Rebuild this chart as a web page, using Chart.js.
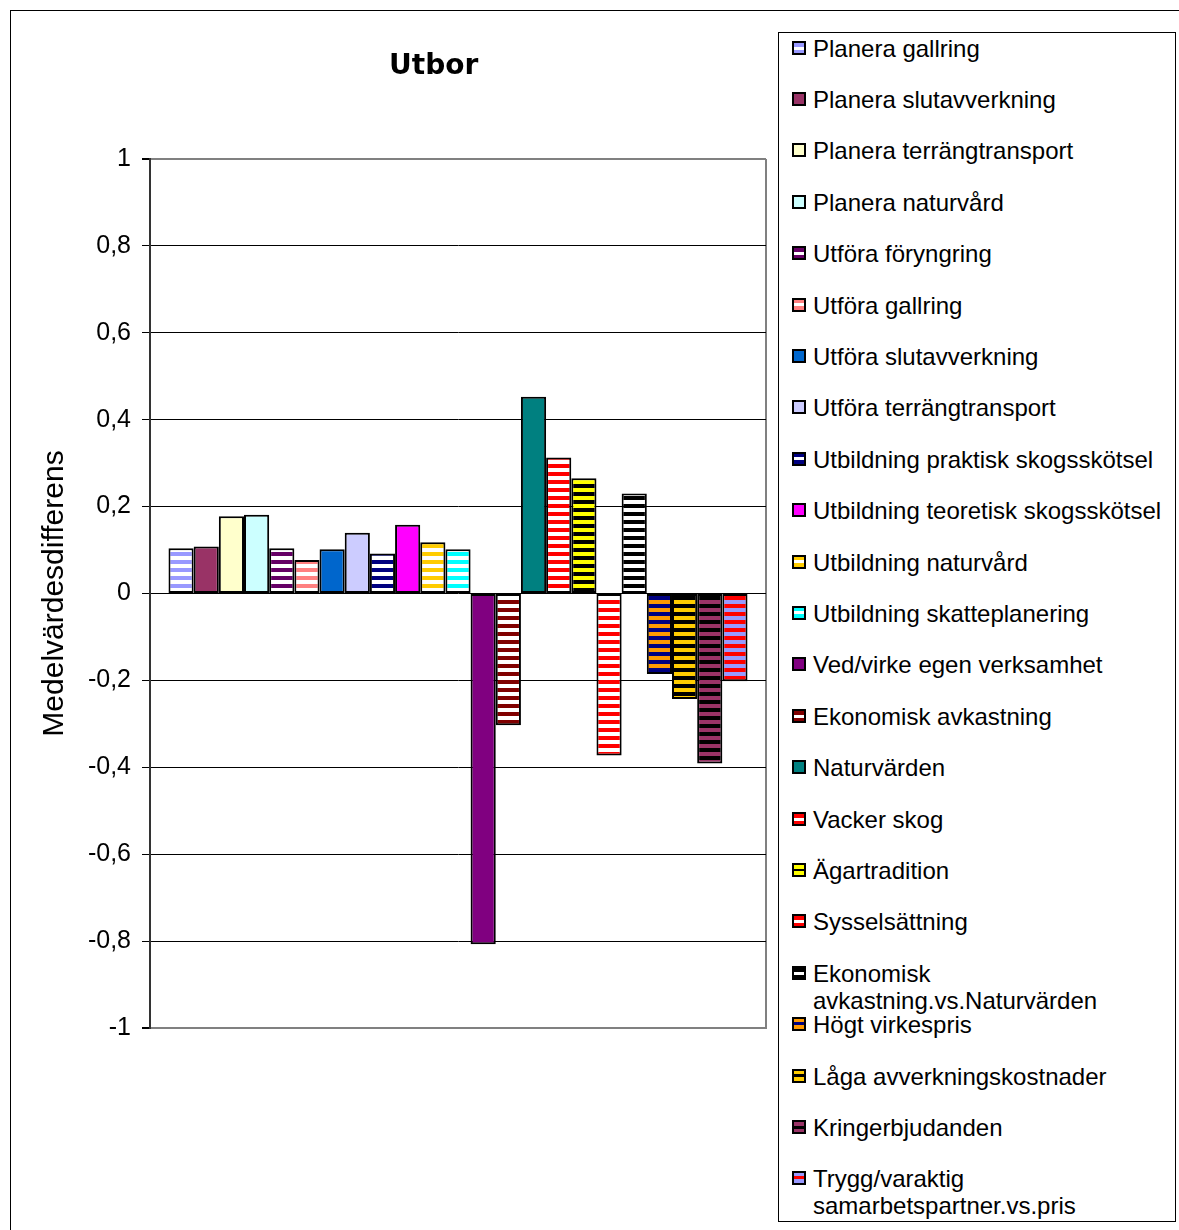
<!DOCTYPE html>
<html>
<head>
<meta charset="utf-8">
<script src="https://cdn.jsdelivr.net/npm/chart.js@4.4.1/dist/chart.umd.min.js"></script>
<style>
  html, body { margin: 0; padding: 0; background: #fff; overflow: hidden; }
  #frame { position: absolute; left: 10px; top: 10px; width: 1200px; height: 1260px; border: 1px solid #000; }
  #wrap { position: absolute; left: 0; top: 0; width: 775px; height: 1230px; }
  #legend { position: absolute; left: 778px; top: 32px; width: 396px; height: 1188px; border: 1px solid #000; background: #fff;
            font-family: "Liberation Sans", Arial, sans-serif; font-size: 24px; color: #000; }
  .item { position: absolute; left: 13px; width: 380px; line-height: 27px; }
  .sw { position: absolute; left: 0; top: 6px; width: 10px; height: 10px; border: 2px solid #000; }
  .txt { position: absolute; left: 21px; width: 358px; }
</style>
</head>
<body>
<div id="frame"></div>
<div id="wrap"><canvas id="c" width="775" height="1230"></canvas></div>
<div id="legend"></div>
<script>
// single category, one bar per series
const categories = [''];

const seriesNames = [
    'Planera gallring',
    'Planera slutavverkning',
    'Planera terrängtransport',
    'Planera naturvård',
    'Utföra föryngring',
    'Utföra gallring',
    'Utföra slutavverkning',
    'Utföra terrängtransport',
    'Utbildning praktisk skogsskötsel',
    'Utbildning teoretisk skogsskötsel',
    'Utbildning naturvård',
    'Utbildning skatteplanering',
    'Ved/virke egen verksamhet',
    'Ekonomisk avkastning',
    'Naturvärden',
    'Vacker skog',
    'Ägartradition',
    'Sysselsättning',
    'Ekonomisk avkastning.vs.Naturvärden',
    'Högt virkespris',
    'Låga avverkningskostnader',
    'Kringerbjudanden',
    'Trygg/varaktig samarbetspartner.vs.pris'
];

const seriesValues = [
    0.104, 0.108, 0.178, 0.181, 0.104, 0.077, 0.102, 0.140, 0.092, 0.158, 0.118, 0.102,
    -0.807, -0.303, 0.453, 0.313, 0.265, -0.373, 0.230, -0.185, -0.243, -0.391, -0.202
];

// main colour and stripe colour (null = solid fill)
const mainColors = [
    '#9999FF', '#993366', '#FFFFCC', '#CCFFFF', '#660066', '#FF8080', '#0066CC', '#CCCCFF',
    '#000080', '#FF00FF', '#FFCC00', '#00FFFF', '#800080', '#800000', '#008080', '#FF0000',
    '#FFFF00', '#FF0000', '#000000', '#FF9900', '#FFCC00', '#993366', '#9999FF'
];
const stripeColors = [
    '#FFFFFF', null, null, null, '#FFFFFF', '#FFFFFF', null, null,
    '#FFFFFF', null, '#FFFFFF', '#FFFFFF', null, '#FFFFFF', null, '#FFFFFF',
    '#000000', '#FFFFFF', '#FFFFFF', '#000080', '#000000', '#000000', '#FF0000'
];

const yTickLabels = ['-1', '-0,8', '-0,6', '-0,4', '-0,2', '0', '0,2', '0,4', '0,6', '0,8', '1'];

const canvas = document.getElementById('c');
const ctx = canvas.getContext('2d');

function stripes(c1, c2) {
    const tile = document.createElement('canvas');
    tile.width = 8;
    tile.height = 8;
    const t = tile.getContext('2d');
    t.fillStyle = c2;
    t.fillRect(0, 0, 8, 8);
    t.fillStyle = c1;
    t.fillRect(0, 0, 8, 4);
    return ctx.createPattern(tile, 'repeat');
}

function fillFor(i) {
    if (!stripeColors[i]) return mainColors[i];
    return stripes(mainColors[i], stripeColors[i]);
}

// legend (html, built from the same arrays)
const legendEl = document.getElementById('legend');
seriesNames.forEach((name, i) => {
    const item = document.createElement('div');
    item.className = 'item';
    item.style.top = (1.5 + i * 51.4) + 'px';
    const sw = document.createElement('div');
    sw.className = 'sw';
    if (stripeColors[i]) {
        sw.style.background = `linear-gradient(to bottom, ${mainColors[i]} 0 35%, ${stripeColors[i]} 35% 65%, ${mainColors[i]} 65% 100%)`;
    } else {
        sw.style.background = mainColors[i];
    }
    const txt = document.createElement('div');
    txt.className = 'txt';
    txt.textContent = name;
    item.appendChild(sw);
    item.appendChild(txt);
    legendEl.appendChild(item);
});

Chart.defaults.font.family = '"Liberation Sans", Arial, sans-serif';
Chart.defaults.color = '#000';

new Chart(ctx, {
    type: 'bar',
    data: {
        labels: categories,
        datasets: seriesNames.map((name, i) => ({
            label: name,
            data: [seriesValues[i]],
            backgroundColor: fillFor(i),
            borderColor: '#000',
            borderWidth: 2,
            borderSkipped: false,
            barPercentage: 1,
            categoryPercentage: 0.94
        }))
    },
    options: {
        responsive: false,
        animation: false,
        layout: {
            padding: { left: 33, right: 9, top: 48, bottom: 202 }
        },
        plugins: {
            legend: { display: false },
            tooltip: { enabled: false },
            title: {
                display: true,
                text: 'Utbor\u00A0\u00A0\u00A0\u00A0\u00A0',
                fullSize: false,
                color: '#000',
                font: { family: '"DejaVu Sans", sans-serif', size: 28, weight: 'bold' },
                padding: { top: 2, bottom: 75.4 }
            }
        },
        scales: {
            x: {
                ticks: { display: false },
                grid: {
                    offset: true,
                    drawTicks: false,
                    lineWidth: 2,
                    color: c => c.index === 0 ? 'rgba(0,0,0,0)' : '#808080'
                },
                border: { display: true, color: '#808080', width: 2 }
            },
            y: {
                min: -1,
                max: 1,
                afterFit: s => { s.width = 117; },
                ticks: {
                    stepSize: 0.2,
                    padding: 11,
                    font: { size: 25 },
                    callback: (v, idx) => yTickLabels[idx]
                },
                grid: {
                    tickLength: 8,
                    tickColor: '#000',
                    color: c => (c.tick && Math.abs(Math.abs(c.tick.value) - 1) < 1e-6) ? '#808080' : '#000',
                    lineWidth: c => (c.tick && Math.abs(Math.abs(c.tick.value) - 1) < 1e-6) ? 2 : 1
                },
                border: { display: true, color: '#333', width: 2 },
                title: {
                    display: true,
                    text: 'Medelvärdesdifferens',
                    font: { size: 30 },
                    padding: { top: 4, bottom: 4 }
                }
            }
        }
    }
});
</script>
</body>
</html>
